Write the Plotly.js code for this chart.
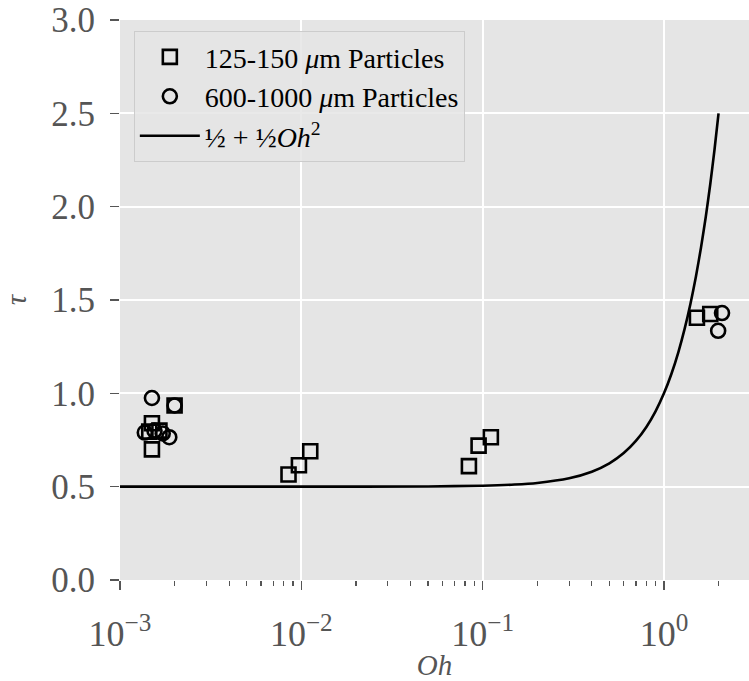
<!DOCTYPE html>
<html>
<head>
<meta charset="utf-8">
<script src="https://cdn.plot.ly/plotly-3.0.1.min.js"></script>
<style>html,body{margin:0;padding:0;background:#fff;}#chart{width:749px;height:681px;}</style>
</head>
<body>
<div id="chart"></div>
<script>
// 125-150 um particles (squares)
const smallOh  = [0.00150, 0.00150, 0.00200, 0.00145, 0.00165, 0.0085, 0.0097, 0.0112, 0.084, 0.095, 0.111, 1.52, 1.80];
const smallTau = [0.70, 0.84, 0.935, 0.795, 0.80, 0.565, 0.615, 0.69, 0.61, 0.72, 0.765, 1.405, 1.425];
// 600-1000 um particles (circles)
const largeOh  = [0.00150, 0.00137, 0.00155, 0.00172, 0.00187, 0.00200, 2.09, 1.99];
const largeTau = [0.975, 0.79, 0.80, 0.785, 0.765, 0.935, 1.43, 1.335];
// model curve tau = 1/2 + 1/2 Oh^2 (tabulated)
const modelOh  = [0.001, 0.01, 0.05, 0.1, 0.15, 0.2, 0.3, 0.4, 0.5, 0.6, 0.7, 0.8, 0.9, 1.0, 1.1, 1.2, 1.3, 1.4, 1.5, 1.6, 1.7, 1.8, 1.9, 2.0];
const modelTau = [0.5000005, 0.50005, 0.50125, 0.505, 0.51125, 0.52, 0.545, 0.58, 0.625, 0.68, 0.745, 0.82, 0.905, 1.0, 1.105, 1.22, 1.345, 1.48, 1.625, 1.78, 1.945, 2.12, 2.305, 2.5];
// labels
const seriesNames = ['125-150 <i>μ</i>m Particles', '600-1000 <i>μ</i>m Particles', '½ + ½<i>Oh</i><sup>2</sup>'];
const xTicks = [0.001, 0.01, 0.1, 1];
const xTickText = ['10<sup>−3</sup>', '10<sup>−2</sup>', '10<sup>−1</sup>', '10<sup>0</sup>'];
const xMinorTicks = [0.002, 0.003, 0.004, 0.005, 0.006, 0.007, 0.008, 0.009,
                     0.02, 0.03, 0.04, 0.05, 0.06, 0.07, 0.08, 0.09,
                     0.2, 0.3, 0.4, 0.5, 0.6, 0.7, 0.8, 0.9, 2];
const yTicks = [0, 0.5, 1.0, 1.5, 2.0, 2.5, 3.0];
const yTickText = ['0.0', '0.5', '1.0', '1.5', '2.0', '2.5', '3.0'];

const serif = 'Liberation Serif, Times New Roman, serif';
const gray = '#555555';

const traces = [
  {x: smallOh, y: smallTau, mode: 'markers', type: 'scatter', name: seriesNames[0],
   marker: {symbol: 'square-open', size: 14, color: '#000', line: {width: 2.6, color: '#000'}}},
  {x: largeOh, y: largeTau, mode: 'markers', type: 'scatter', name: seriesNames[1],
   marker: {symbol: 'circle-open', size: 14, color: '#000', line: {width: 2.6, color: '#000'}}},
  {x: modelOh, y: modelTau, mode: 'lines', type: 'scatter', name: seriesNames[2],
   line: {color: '#000', width: 2.6, shape: 'spline', smoothing: 0.6}}
];

const layout = {
  width: 749, height: 681,
  margin: {l: 120, r: 0, t: 20, b: 101, pad: 0},
  paper_bgcolor: '#ffffff',
  plot_bgcolor: '#e5e5e5',
  showlegend: true,
  font: {family: serif, color: gray},
  xaxis: {
    type: 'log', range: [-3, 0.469],
    tickvals: xTicks, ticktext: xTickText,
    showgrid: true, gridcolor: '#ffffff', gridwidth: 2,
    zeroline: false, showline: false,
    ticks: 'outside', ticklen: 9, tickwidth: 1.5, tickcolor: gray,
    ticklabelstandoff: 13,
    tickfont: {family: serif, size: 36, color: gray},
    minor: {ticks: 'outside', ticklen: 5, tickwidth: 1.3, tickcolor: gray, tickvals: xMinorTicks, showgrid: false},
    title: {text: '<i>Oh</i>', font: {family: serif, size: 29, color: gray}, standoff: 2}
  },
  yaxis: {
    range: [0, 3.0], tickvals: yTicks, ticktext: yTickText,
    showgrid: true, gridcolor: '#ffffff', gridwidth: 2,
    zeroline: false, showline: false,
    ticks: 'outside', ticklen: 9, tickwidth: 1.5, tickcolor: gray,
    ticklabelstandoff: 8,
    tickfont: {family: serif, size: 35, color: gray},
    title: {text: '<i>τ</i>', font: {family: serif, size: 29, color: gray}, standoff: 22}
  },
  legend: {
    x: 0.022, y: 0.98, xanchor: 'left', yanchor: 'top',
    bgcolor: 'rgba(229,229,229,0.85)', bordercolor: '#cccccc', borderwidth: 1,
    font: {family: serif, size: 28, color: '#000'},
    itemwidth: 60, tracegroupgap: 0
  }
};

Plotly.newPlot('chart', traces, layout, {displayModeBar: false, staticPlot: true});
</script>
</body>
</html>
